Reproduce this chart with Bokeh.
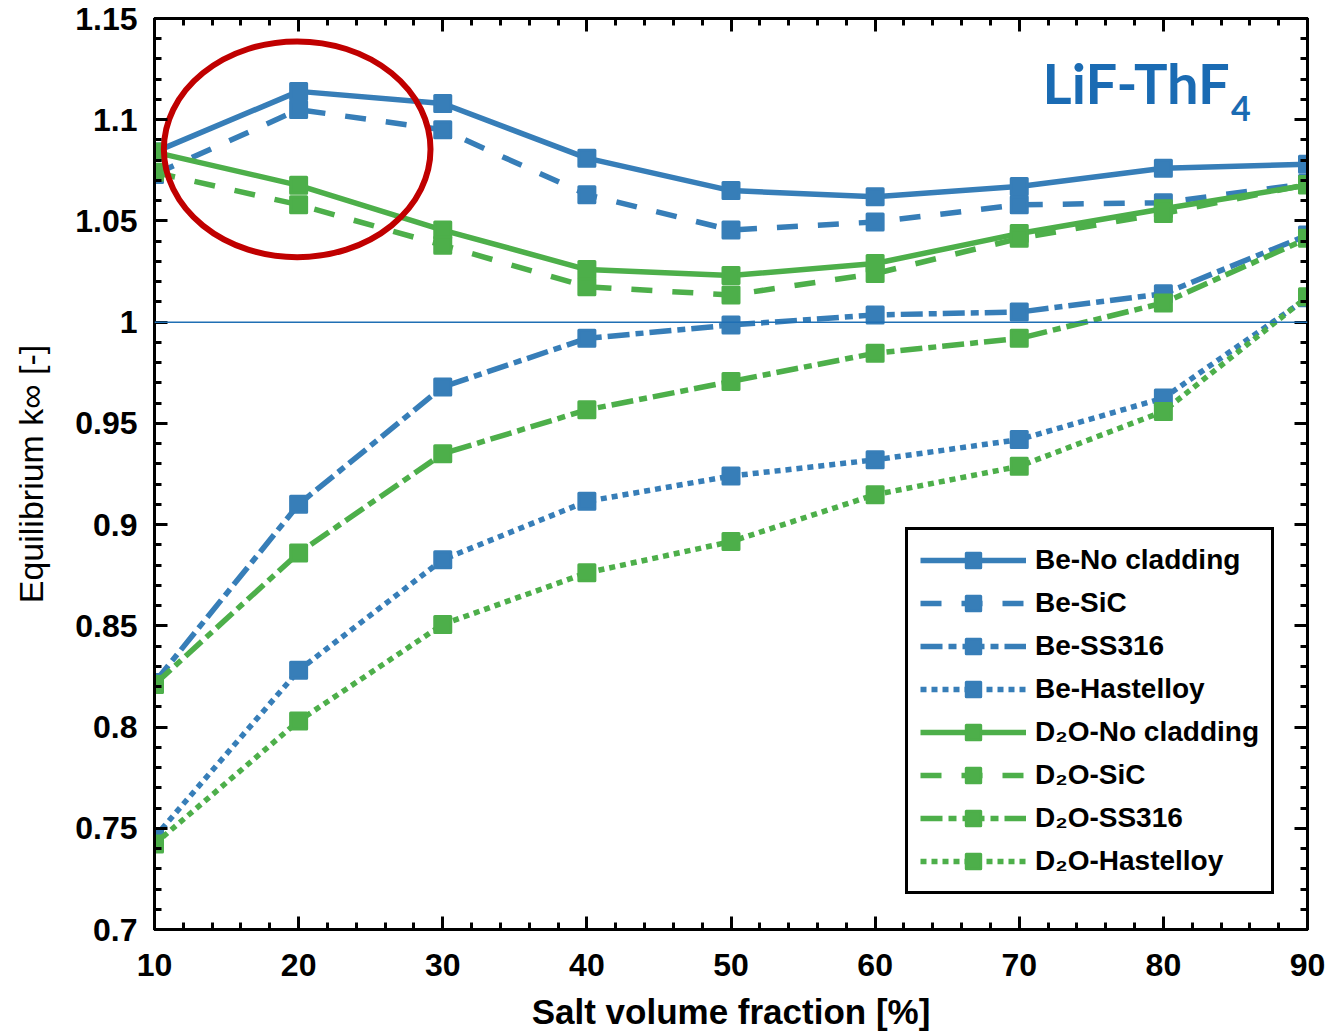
import numpy as np
from bokeh.plotting import figure
from bokeh.models import (LinearAxis, FixedTicker, NumeralTickFormatter, Span,
                          Legend, LegendItem, Label, Range1d, CustomJSTickFormatter)
from bokeh.embed import file_html
from bokeh.resources import INLINE

# ---------------- data ----------------
salt_fraction = [10, 20, 30, 40, 50, 60, 70, 80, 90]
be_no_cladding = [1.084, 1.114, 1.108, 1.081, 1.065, 1.062, 1.067, 1.076, 1.078]
be_sic = [1.073, 1.105, 1.095, 1.063, 1.0455, 1.0495, 1.058, 1.059, 1.0685]
be_ss316 = [0.822, 0.910, 0.968, 0.992, 0.9986, 1.0036, 1.005, 1.014, 1.043]
be_hastelloy = [0.7455, 0.828, 0.8827, 0.9115, 0.924, 0.932, 0.942, 0.9625, 1.012]
d2o_no_cladding = [1.084, 1.0676, 1.0455, 1.026, 1.023, 1.029, 1.0438, 1.056, 1.0677]
d2o_sic = [1.074, 1.058, 1.038, 1.0175, 1.0134, 1.024, 1.0414, 1.0537, 1.068]
d2o_ss316 = [0.821, 0.886, 0.935, 0.9567, 0.9707, 0.9847, 0.992, 1.0095, 1.0414]
d2o_hastelloy = [0.7422, 0.803, 0.8507, 0.8762, 0.8916, 0.9148, 0.9288, 0.9559, 1.0126]

series_labels = ["Be-No cladding", "Be-SiC", "Be-SS316", "Be-Hastelloy",
                 "D\u2082O-No cladding", "D\u2082O-SiC", "D\u2082O-SS316", "D\u2082O-Hastelloy"]
series_values = [be_no_cladding, be_sic, be_ss316, be_hastelloy,
                 d2o_no_cladding, d2o_sic, d2o_ss316, d2o_hastelloy]

x_major_ticks = [10, 20, 30, 40, 50, 60, 70, 80, 90]
x_minor_ticks = list(range(10, 91, 2))
y_major_ticks = [0.7, 0.75, 0.8, 0.85, 0.9, 0.95, 1.0, 1.05, 1.1, 1.15]
y_minor_ticks = [round(0.70 + 0.01 * i, 2) for i in range(46)]

title_main = "LiF-ThF"
title_sub = "4"
x_label = "Salt volume fraction [%]"
y_label = "Equilibrium k\u221e [-]"

# highlight ellipse (annotation)
ellipse_center = (19.9, 1.0854)
ellipse_size = (18.5, 0.1066)

# ---------------- styles ----------------
BLUE = "#377EB8"
GREEN = "#4DAF4A"
colors = [BLUE] * 4 + [GREEN] * 4
dashes = ["solid", "21 20", "22 6 8 6", "6 5"] * 2
FONT = "Liberation Sans"

p = figure(width=1337, height=1033,
           x_range=Range1d(10, 90), y_range=Range1d(0.7, 1.15),
           x_axis_type=None, y_axis_type=None,
           output_backend="svg", toolbar_location=None,
           min_border_left=154, min_border_top=18,
           min_border_right=30, min_border_bottom=103)
p.xgrid.visible = False
p.ygrid.visible = False
p.outline_line_color = "black"
p.outline_line_width = 3
p.background_fill_color = "white"
p.border_fill_color = "white"


def style_axis(ax, major, minor, labels):
    ax.ticker = FixedTicker(ticks=major, minor_ticks=minor)
    ax.axis_line_width = 3
    ax.axis_line_color = "black"
    ax.major_tick_in = 13
    ax.major_tick_out = 0
    ax.minor_tick_in = 7
    ax.minor_tick_out = 0
    ax.major_tick_line_width = 3
    ax.minor_tick_line_width = 3
    ax.major_tick_line_color = "black"
    ax.minor_tick_line_color = "black"
    if labels:
        ax.major_label_text_font = FONT
        ax.major_label_text_font_style = "bold"
        ax.major_label_text_font_size = "32px"
        ax.major_label_text_color = "black"
    else:
        ax.formatter = CustomJSTickFormatter(code="return '';")
        ax.major_label_standoff = 0


xb = LinearAxis(formatter=NumeralTickFormatter(format="0"))
style_axis(xb, x_major_ticks, x_minor_ticks, True)
xb.major_label_standoff = 24
xb.axis_label = x_label
xb.axis_label_text_font = FONT
xb.axis_label_text_font_style = "bold"
xb.axis_label_text_font_size = "35px"
xb.axis_label_text_color = "black"
xb.axis_label_standoff = 13
p.add_layout(xb, "below")

yl = LinearAxis(formatter=NumeralTickFormatter(format="0.[00]"))
style_axis(yl, y_major_ticks, y_minor_ticks, True)
yl.major_label_standoff = 17
yl.axis_label = y_label
yl.axis_label_text_font = FONT
yl.axis_label_text_font_style = "normal"
yl.axis_label_text_font_size = "34px"
yl.axis_label_text_color = "black"
yl.axis_label_standoff = 22
p.add_layout(yl, "left")

xt = LinearAxis()
style_axis(xt, x_major_ticks, x_minor_ticks, False)
p.add_layout(xt, "above")

yr = LinearAxis()
style_axis(yr, y_major_ticks, y_minor_ticks, False)
p.add_layout(yr, "right")

# reference line k = 1
p.add_layout(Span(location=1.0, dimension="width", line_color="#1F6FB4", line_width=1.5))

items = []
for label, vals, col, dash in zip(series_labels, series_values, colors, dashes):
    ln = p.line(salt_fraction, vals, line_color=col, line_width=5.5, line_dash=dash)
    sc = p.scatter(salt_fraction, vals, marker="square", size=16,
                   fill_color=col, line_color=col, line_width=3, line_join="round")
    items.append(LegendItem(label=label, renderers=[ln, sc]))

# red highlight ellipse
p.ellipse(x=[ellipse_center[0]], y=[ellipse_center[1]],
          width=ellipse_size[0], height=ellipse_size[1],
          fill_color=None, line_color="#C00000", line_width=6)

legend = Legend(items=items, location=(751, 35), margin=0,
                padding=12, spacing=7, glyph_width=106, glyph_height=36,
                label_height=36, label_standoff=9,
                label_text_font=FONT, label_text_font_style="bold",
                label_text_font_size="28px", label_text_color="black",
                border_line_color="black", border_line_width=3, border_line_alpha=1.0,
                background_fill_color="white", background_fill_alpha=1.0)
p.add_layout(legend, "center")

p.add_layout(Label(x=71.62, y=1.1183, text=title_main, text_font="Lato",
                   text_font_style="bold", text_font_size="56px",
                   text_color="#1A6BB3", text_baseline="alphabetic"))
p.add_layout(Label(x=84.7, y=1.1055, text=title_sub, text_font="Lato",
                   text_font_style="bold", text_font_size="34px",
                   text_color="#1A6BB3", text_baseline="alphabetic"))

open("out.html", "w").write(file_html(p, INLINE))
